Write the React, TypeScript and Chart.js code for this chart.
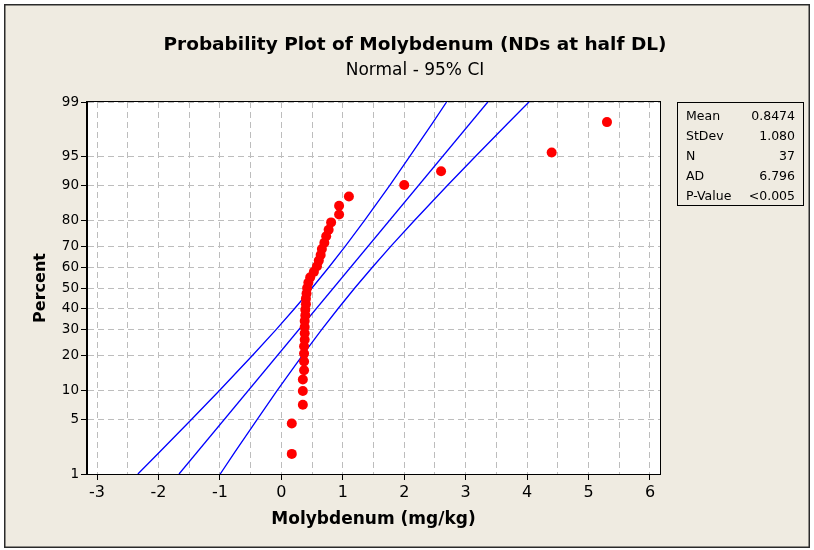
import React, { useEffect, useRef } from 'react';
import { Chart, registerables } from 'chart.js';

Chart.register(...registerables);

const TITLE = 'Probability Plot of Molybdenum (NDs at half DL)';
const SUBTITLE = 'Normal - 95% CI';
const X_TITLE = 'Molybdenum (mg/kg)';
const Y_TITLE = 'Percent';

const PERCENT_TICKS = [1, 5, 10, 20, 30, 40, 50, 60, 70, 80, 90, 95, 99];
const X_TICKS = [-3, -2.5, -2, -1.5, -1, -0.5, 0, 0.5, 1, 1.5, 2, 2.5, 3, 3.5, 4, 4.5, 5, 5.5, 6];

// observed data (sorted), x in mg/kg, y = plotted percent
const X_VALUES = [
  0.17, 0.17, 0.35, 0.35, 0.35, 0.37, 0.37, 0.37, 0.37, 0.38, 0.38, 0.38, 0.38,
  0.39, 0.39, 0.40, 0.40, 0.41, 0.42, 0.44, 0.47, 0.53, 0.58, 0.61, 0.64, 0.66,
  0.70, 0.73, 0.77, 0.81, 0.94, 0.94, 1.10, 2.00, 2.60, 4.40, 5.30,
];
const PERCENTS = [
  1.9, 4.5, 7.2, 9.9, 12.6, 15.2, 17.9, 20.6, 23.3, 25.9, 28.6, 31.3, 34.0,
  36.6, 39.3, 42.0, 44.7, 47.3, 50.0, 52.7, 55.3, 58.0, 60.7, 63.4, 66.0, 68.7,
  71.4, 74.1, 76.7, 79.4, 82.1, 84.8, 87.4, 90.1, 92.8, 95.5, 98.1,
];

// fitted line and 95% CI bands
const FIT_PERCENTS = [1, 99];
const FIT_X = [-1.665, 3.36];
const CI_PERCENTS = [1, 2, 5, 10, 20, 30, 40, 50, 60, 70, 80, 90, 95, 98, 99];
const CI_LOWER = [-2.335, -1.985, -1.463, -1.007, -0.467, -0.089, 0.22, 0.499, 0.767, 1.042, 1.352, 1.762, 2.09, 2.452, 2.69];
const CI_UPPER = [-0.995, -0.757, -0.395, -0.067, 0.343, 0.653, 0.928, 1.195, 1.475, 1.784, 2.162, 2.702, 3.158, 3.68, 4.03];

const STAT_LABELS = ['Mean', 'StDev', 'N', 'AD', 'P-Value'];
const STAT_VALUES = ['0.8474', '1.080', '37', '6.796', '<0.005'];

const FONT = "'DejaVu Sans', 'Liberation Sans', sans-serif";
const BEIGE = '#EFEBE1';

// inverse standard normal CDF (probability scale transform)
function probit(pct: number): number {
  const p = pct / 100;
  const a = [-3.969683028665376e1, 2.209460984245205e2, -2.759285104469687e2, 1.38357751867269e2, -3.066479806614716e1, 2.506628277459239];
  const b = [-5.447609879822406e1, 1.615858368580409e2, -1.556989798598866e2, 6.680131188771972e1, -1.328068155288572e1];
  const c = [-7.784894002430293e-3, -3.223964580411365e-1, -2.400758277161838, -2.549732539343734, 4.374664141464968, 2.938163982698783];
  const d = [7.784695709041462e-3, 3.224671290700398e-1, 2.445134137142996, 3.754408661907416];
  const pl = 0.02425;
  if (p < pl) {
    const q = Math.sqrt(-2 * Math.log(p));
    return (((((c[0] * q + c[1]) * q + c[2]) * q + c[3]) * q + c[4]) * q + c[5]) / ((((d[0] * q + d[1]) * q + d[2]) * q + d[3]) * q + 1);
  }
  if (p > 1 - pl) {
    const q = Math.sqrt(-2 * Math.log(1 - p));
    return -(((((c[0] * q + c[1]) * q + c[2]) * q + c[3]) * q + c[4]) * q + c[5]) / ((((d[0] * q + d[1]) * q + d[2]) * q + d[3]) * q + 1);
  }
  const q = p - 0.5;
  const r = q * q;
  return ((((((a[0] * r + a[1]) * r + a[2]) * r + a[3]) * r + a[4]) * r + a[5]) * q) / (((((b[0] * r + b[1]) * r + b[2]) * r + b[3]) * r + b[4]) * r + 1);
}

const toPoints = (xs: number[], ps: number[]) => xs.map((x, i) => ({ x, y: probit(ps[i]) }));
const isWhole = (v: number) => Math.abs(v - Math.round(v)) < 1e-6;

const framePlugin = {
  id: 'frame',
  beforeDraw(chart: any) {
    const { ctx, width, height, chartArea } = chart;
    ctx.save();
    ctx.fillStyle = '#ffffff';
    ctx.fillRect(0, 0, width, height);
    ctx.fillStyle = BEIGE;
    ctx.fillRect(5, 5, 804, 542);
    ctx.strokeStyle = '#2a2a2a';
    ctx.lineWidth = 1.5;
    ctx.strokeRect(4.75, 4.75, 804.5, 542.5);
    ctx.fillStyle = '#ffffff';
    ctx.fillRect(chartArea.left, chartArea.top, chartArea.right - chartArea.left, chartArea.bottom - chartArea.top);
    ctx.restore();
  },
  afterDraw(chart: any) {
    const { ctx, chartArea } = chart;
    ctx.save();
    ctx.strokeStyle = '#000';
    ctx.lineWidth = 1;
    ctx.strokeRect(Math.round(chartArea.left) - 0.5, Math.round(chartArea.top) - 0.5, Math.round(chartArea.right - chartArea.left) + 1, Math.round(chartArea.bottom - chartArea.top) + 1);

    ctx.fillStyle = '#000';
    ctx.textAlign = 'center';
    ctx.textBaseline = 'middle';
    ctx.font = `bold 18.5px ${FONT}`;
    ctx.fillText(TITLE, 415, 45);
    ctx.font = `17px ${FONT}`;
    ctx.fillText(SUBTITLE, 415, 71);

    // stats box
    ctx.strokeRect(677.5, 102.5, 126, 103);
    ctx.font = `12.5px ${FONT}`;
    STAT_LABELS.forEach((lab, i) => {
      const y = 117 + i * 20;
      ctx.textAlign = 'left';
      ctx.fillText(lab, 686, y);
      ctx.textAlign = 'right';
      ctx.fillText(STAT_VALUES[i], 795, y);
    });
    ctx.restore();
  },
};

export default function App() {
  const ref = useRef<HTMLCanvasElement | null>(null);

  useEffect(() => {
    if (!ref.current) return;
    Chart.defaults.font.family = FONT;
    const chart = new Chart(ref.current, {
      type: 'scatter',
      data: {
        datasets: [
          {
            label: 'Data',
            data: toPoints(X_VALUES, PERCENTS),
            backgroundColor: '#FF0000',
            borderColor: '#FF0000',
            borderWidth: 0,
            pointRadius: 5,
            showLine: false,
          },
          {
            label: 'Fit',
            data: toPoints(FIT_X, FIT_PERCENTS),
            borderColor: '#0000FF',
            borderWidth: 1.3,
            pointRadius: 0,
            showLine: true,
          },
          {
            label: 'Lower CI',
            data: toPoints(CI_LOWER, CI_PERCENTS),
            borderColor: '#0000FF',
            borderWidth: 1.3,
            pointRadius: 0,
            showLine: true,
          },
          {
            label: 'Upper CI',
            data: toPoints(CI_UPPER, CI_PERCENTS),
            borderColor: '#0000FF',
            borderWidth: 1.3,
            pointRadius: 0,
            showLine: true,
          },
        ],
      },
      options: {
        responsive: false,
        animation: false,
        layout: { padding: { left: 0, top: 102, right: 154, bottom: 0 } },
        plugins: {
          legend: { display: false },
          title: { display: false },
          tooltip: { enabled: false },
        },
        scales: {
          x: {
            type: 'linear',
            min: -3.163,
            max: 6.163,
            bounds: 'data',
            afterFit: (s: any) => {
              s.height = 76;
            },
            afterBuildTicks: (axis: any) => {
              axis.ticks = X_TICKS.map((v) => ({ value: v }));
            },
            ticks: {
              autoSkip: false,
              maxRotation: 0,
              padding: 3,
              color: '#000',
              font: { size: 16 },
              callback: (_v: any, i: number) => (isWhole(X_TICKS[i]) ? String(X_TICKS[i]) : ''),
            },
            grid: {
              color: '#BDBDBD',
              lineWidth: 1,
              tickLength: 6,
              tickColor: (ctx: any) => (ctx.tick && isWhole(ctx.tick.value) ? '#000' : 'rgba(0,0,0,0)'),
            },
            border: { display: true, color: '#000', width: 1, dash: [6, 4] },
            title: {
              display: true,
              text: X_TITLE,
              color: '#000',
              font: { size: 17, weight: 'bold' },
              padding: { top: 0, bottom: 20 },
            },
          },
          y: {
            type: 'linear',
            min: probit(1),
            max: probit(99),
            bounds: 'data',
            afterFit: (s: any) => {
              s.width = 87;
            },
            afterBuildTicks: (axis: any) => {
              axis.ticks = PERCENT_TICKS.map((p) => ({ value: probit(p) }));
            },
            ticks: {
              autoSkip: false,
              padding: 2,
              color: '#000',
              font: { size: 13.5 },
              callback: (_v: any, i: number) => String(PERCENT_TICKS[i]),
            },
            grid: {
              color: '#BDBDBD',
              lineWidth: 1,
              tickLength: 6,
              tickColor: '#000',
            },
            border: { display: true, color: '#000', width: 1, dash: [6, 4] },
            title: {
              display: true,
              text: Y_TITLE,
              color: '#000',
              font: { size: 16, weight: 'bold' },
              padding: { top: 31, bottom: 0 },
            },
          },
        },
      },
      plugins: [framePlugin],
    });
    return () => chart.destroy();
  }, []);

  return (
    <div style={{ position: 'fixed', left: 0, top: 0, width: 814, height: 550 }}>
      <canvas ref={ref} width={814} height={550} style={{ display: 'block' }} />
    </div>
  );
}
